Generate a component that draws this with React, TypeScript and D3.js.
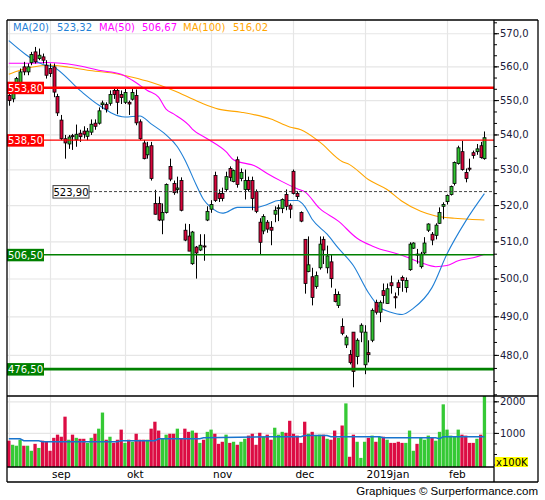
import React from 'react';
import * as d3 from 'd3';

// ---- data (index = trading day) ----
const opens = [551.5,550.5,553.5,555,560,558.5,561.3,564.5,562.5,563,560.5,559.5,560,551.2,544.3,538.9,537.4,539.8,538.6,540.5,541.1,539.6,540.8,543.4,543.4,548.8,548.9,549.2,553,553,551.8,549.5,549.5,550.4,551.5,543.8,537.7,534.3,536.9,520.6,520.6,516,518.1,531,526.2,524.5,527,513.2,511.6,504.1,508.6,507.8,508.9,516,519,528.4,523.4,523.4,524.5,530.4,526.7,532.9,527.6,524.5,527,527,523.9,515.4,513,515.4,514,517.6,519.2,519.2,523.1,520.1,529.6,523.4,518.1,510.7,502,500.6,498,503,510.7,503,504.6,495.9,493,487.5,482.7,480.2,486,479.7,486,477.6,480.7,483.9,493.8,491.2,496.9,493.5,499,495.3,499,500.4,497.7,502.5,508.3,506.7,503.3,507,513.2,512.1,511.8,515.1,519.8,521.1,523.1,526.2,531.8,535.2,529.3,530.5,534.9,535.2,536.9,533.2];
const highs = [553,554,557,559.5,561.5,561,564.5,566,565.5,564,562,561,561,552,545.8,540,540,540.3,543,541.5,542.5,542,544.5,544.5,548,550,549.5,553,553.5,554,553,553.5,550,553.4,553.3,544.5,538.5,538,538,524.4,522.5,520.6,526.2,533.2,527,528.1,527.9,515,514.9,513,508.9,512.1,512.1,519.8,521.5,529.5,524.5,525,529.5,531,530.1,533.8,530.4,530.1,528.1,528.1,524.5,516.5,517.6,516,515.7,519.8,520.3,522,524.5,520.6,530.1,524,518.4,510.7,511.5,503,502,511.5,511.5,509,506.7,497.4,496.7,489.6,485.2,481.4,486,484.4,488.3,487.8,483.9,492.2,494.5,494.3,498.8,498.8,500.9,496.4,499.8,500.9,500.4,509.9,509.9,508.1,507.3,511.3,515.1,512.7,515.1,519.5,520.9,523.1,525.6,532.4,536.9,538.3,530.4,533.2,535.5,537.4,538,541];
const lows = [548.5,549.5,552.5,554,557.5,557.5,560.5,561,562,561,556.5,557,551,545.5,538.5,533.2,536,535.7,536.6,538,539,538.5,540,541.5,543,547.5,546.5,548.5,550.5,546,549,549,545.8,550,542.8,538.5,533,533.2,527,517.5,515.7,512.1,517.8,526.8,523,523.4,518.4,510.2,507.5,503.8,500.1,507.5,504.9,515.7,518,521,521,521.2,523.9,526.8,526.5,525,526.8,521.7,523.9,518.7,517.9,506.7,512.1,512.5,509.1,515.4,515.7,517.9,518.7,516.5,523.1,521.7,515.4,496.1,501.8,493,497.4,502.5,504,501.5,497.7,493.8,492.3,485.2,481.9,477.7,471.9,477.7,483.4,475.2,478.2,483.4,490.6,488.6,493.5,493.5,496.1,492.2,495.6,496.6,496.4,502.2,508.1,504.1,502.8,506.7,512.7,509.1,510.7,514.9,516.2,520.3,522.8,525.6,531.5,529.8,526.5,529.6,533.2,534.3,533.2,532.9];
const closes = [550,553,556.5,558.5,558.5,560,563.7,561.5,563.5,562,557.5,558,552.5,546.4,538.9,537.7,539.4,539.5,540.2,539.5,540.2,541.1,543.1,542.5,547,549.3,547.5,551.8,551.8,549.5,550.9,552.4,549,552.4,543.5,538.9,533.2,536.6,527.6,517.6,516,518.1,525.9,527.4,523.6,524.9,518.7,510.5,507.5,512.7,507,509.1,508.7,518.4,520.3,521.4,522,522,528.1,527.9,529.8,525.9,529.3,527,524.5,522,518.4,509.9,517,513.5,513.2,518.7,519.4,521.7,519.8,519,523.4,522.5,515.7,498.8,503.8,495.1,500.9,509.4,507.8,506.2,500.1,494,495.9,485.7,484.7,478.2,475.9,483.9,487.8,486,480.2,491.7,491.2,493.8,495.6,497.4,498.2,495,497.7,499.6,499.6,509.4,509.7,506.5,506.7,509.7,514.9,510.5,514.6,518.1,520.3,522.8,525.3,532.1,536.3,530.1,527.6,530.2,534.1,536,533.5,539.2];
const volumes = [770,640,610,800,610,610,450,670,540,770,735,450,860,960,895,1530,800,960,860,830,830,700,860,990,1150,1660,800,895,700,800,1120,700,800,735,990,800,800,800,1150,1370,1090,830,960,990,990,1150,830,1150,1050,1090,1020,700,800,1050,1120,990,670,735,960,700,735,640,735,830,930,990,640,1020,895,960,800,1180,960,1050,1020,1400,990,930,700,1370,990,1050,930,960,960,830,800,1090,860,1250,1950,260,960,735,225,735,860,930,735,895,895,800,700,700,735,700,700,1090,450,670,860,800,930,860,770,1050,1920,1120,930,895,1120,960,930,700,700,830,960,2250];

const monthStarts = [11, 31, 54, 76, 95, 117];
const monthLabels = ['sep', 'okt', 'nov', 'dec', '2019jan', 'feb'];

const ma20: [number, number][] = [[0,567.9],[9,560.8],[12,559.9],[19,553.0],[24,548.7],[31,545.2],[35,545.5],[38,543.2],[42,540.0],[45,536.6],[47,532.9],[50,525.9],[52,521.7],[54,519.5],[57,517.9],[58,518.1],[61,519.5],[66,519.5],[69,520.3],[72,521.4],[77,521.4],[79,519.8],[81,516.2],[85,512.1],[88,508.3],[92,503.6],[96,496.4],[99,492.5],[102,491.2],[105,490.6],[108,492.2],[113,497.7],[117,506.7],[122,515.7],[127,523.32]];
const ma50: [number, number][] = [[0,561.1],[6,561.1],[10,561.3],[14,561.1],[18,560.5],[24,559.0],[30,557.8],[33,556.0],[37,553.0],[40,551.0],[42,547.5],[44,546.1],[48,542.9],[49,541.7],[53,538.9],[58,535.2],[60,532.9],[66,531.0],[69,529.0],[73,526.7],[77,524.7],[79,523.9],[83,519.2],[88,515.7],[93,511.0],[97,508.9],[99,508.1],[103,507.0],[106,506.0],[110,504.4],[114,503.3],[117,503.6],[120,504.9],[124,505.7],[127,506.67]];
const ma100: [number, number][] = [[0,557.8],[3,559.0],[6,559.9],[11,560.5],[16,559.9],[21,559.0],[28,558.1],[33,556.9],[38,555.4],[44,553.0],[51,549.5],[56,547.5],[62,546.6],[70,544.6],[75,542.3],[78,541.5],[83,538.0],[89,532.4],[91,531.5],[96,527.3],[101,524.5],[105,521.2],[110,518.4],[114,517.1],[119,516.5],[123,516.2],[127,516.02]];
const volMa: [number, number][] = [[0,830],[3,830],[4,770],[8,770],[9,735],[29,735],[30,770],[39,770],[40,830],[51,830],[52,860],[70,895],[78,895],[79,930],[85,930],[86,895],[99,895],[100,860],[114,860],[115,830],[116,895],[127,895]];

const legendNames = ['MA(20)', 'MA(50)', 'MA(100)'];
const legendValues = ['523,32', '506,67', '516,02'];

const levelValues = [553.8, 538.5, 523.9, 506.5, 476.5];
const levelLabels = ['553,80', '538,50', '523,90', '506,50', '476,50'];

const priceTicks = [480, 490, 500, 510, 520, 530, 540, 550, 560, 570];
const volumeTicks = [1000, 2000];

// ---- layout ----
const W = 545, H = 500;
const L = 7, R = 494, RR = 538, T = 20, MB = 396, VB = 467, B = 482;
const FONT = 'DejaVu Sans, Verdana, sans-serif';
const GREEN = '#33c433', RED = '#d8063c';
const VGREEN = '#35c935', VRED = '#dc0c43';

export default function App() {
  const n = closes.length;
  const x = d3.scaleLinear().domain([0, n - 1]).range([8.8, 484.4]);
  const y = d3.scaleLog().domain([469.7, 574.2]).range([MB, T]);
  const yv = d3.scaleLinear().domain([0, 2200]).range([465, 395.5]);
  const comma = (s: string) => s.replace('.', ',');
  const fmt1 = d3.format('.1f');

  const maLine = d3.line<[number, number]>().x(d => x(d[0])).y(d => y(d[1])).curve(d3.curveMonotoneX);
  const volLine = d3.line<[number, number]>().x(d => x(d[0])).y(d => yv(d[1]));

  const minorPrice = d3.range(470, 574, 10 / 3);
  const minorVol = d3.range(0, 2200, 1000 / 3);

  const levelStyles = [
    { c: '#ff0000', w: 2.6, dash: undefined as string | undefined, box: '#ff0000', txt: '#fff' },
    { c: '#ff0000', w: 1.4, dash: undefined, box: '#ff0000', txt: '#fff' },
    { c: '#444', w: 1, dash: '3,2', box: '#fff', txt: '#000' },
    { c: '#008000', w: 1.4, dash: undefined, box: '#008000', txt: '#fff' },
    { c: '#008000', w: 2.6, dash: undefined, box: '#008000', txt: '#fff' },
  ];
  const maColors = ['#1f7fd6', '#ff00ff', '#ffa500'];
  const legendX = [[13, 57], [99, 142], [183, 233]];

  return (
    <svg width={W} height={H} style={{ position: 'absolute', left: 0, top: 0, background: '#fff' }} fontFamily={FONT}>
      <defs>
        <clipPath id="mainClip"><rect x={L} y={T} width={R - L} height={MB - T} /></clipPath>
        <clipPath id="volClip"><rect x={L} y={MB} width={R - L} height={VB - MB} /></clipPath>
      </defs>
      <rect x={0} y={0} width={W} height={H} fill="#fff" />

      {/* horizontal gridlines */}
      {priceTicks.map(t => (
        <line key={'hg' + t} x1={L} x2={R} y1={y(t)} y2={y(t)} stroke="#e6e6e6" strokeWidth={1.2} />
      ))}
      {volumeTicks.map(t => (
        <line key={'vg' + t} x1={L} x2={R} y1={yv(t)} y2={yv(t)} stroke="#e6e6e6" strokeWidth={1.2} />
      ))}
      {/* vertical gridlines */}
      {[0, ...monthStarts].map(m => (
        <line key={'mg' + m} x1={Math.round(x(m)) + 0.5} x2={Math.round(x(m)) + 0.5} y1={T} y2={VB} stroke="#e6e6e6" strokeWidth={1.2} />
      ))}

      {/* moving averages */}
      <g clipPath="url(#mainClip)" fill="none">
        <path d={maLine(ma100) || ''} stroke={maColors[2]} strokeWidth={1.1} />
        <path d={maLine(ma50) || ''} stroke={maColors[1]} strokeWidth={1.1} />
        <path d={maLine(ma20) || ''} stroke={maColors[0]} strokeWidth={1.1} />
      </g>

      {/* candles */}
      <g clipPath="url(#mainClip)">
        {closes.map((c, i) => {
          const o = opens[i];
          const cx = Math.round(x(i)) + 0.5;
          const top = y(Math.max(o, c));
          const bot = y(Math.min(o, c));
          return (
            <g key={'c' + i}>
              <line x1={cx} x2={cx} y1={y(highs[i])} y2={y(lows[i])} stroke="#000" strokeWidth={1} />
              <rect x={cx - 1.5} y={top} width={3} height={Math.max(bot - top, 1)} fill={c >= o ? GREEN : RED} stroke="#000" strokeWidth={0.8} />
            </g>
          );
        })}
      </g>

      {/* level lines */}
      {levelValues.map((v, k) => {
        const s = levelStyles[k];
        const yy = y(v);
        return (
          <line key={'lv' + k} x1={k === 2 ? 89 : L} x2={R} y1={yy} y2={yy} stroke={s.c} strokeWidth={s.w} strokeDasharray={s.dash} />
        );
      })}
      {levelValues.map((v, k) => {
        const s = levelStyles[k];
        const yy = y(v);
        const bx = k === 2 ? 53 : L;
        return (
          <g key={'lb' + k}>
            <rect x={bx} y={yy - 6} width={k === 2 ? 36 : 37} height={12.5} fill={s.box} stroke={k === 2 ? '#444' : 'none'} strokeWidth={1} />
            <text x={bx + (k === 2 ? 18 : 18.5)} y={yy + 4} fontSize={10} fill={s.txt} textAnchor="middle">{levelLabels[k]}</text>
          </g>
        );
      })}

      {/* volume */}
      <g clipPath="url(#volClip)">
        {volumes.map((v, i) => (
          <rect key={'v' + i} x={x(i) - 1.6} y={yv(v)} width={3.3} height={VB - yv(v)} fill={closes[i] >= opens[i] ? VGREEN : VRED} />
        ))}
        <path d={volLine(volMa) || ''} fill="none" stroke="#1874cd" strokeWidth={1.5} />
      </g>

      {/* legend */}
      {legendNames.map((nm, k) => (
        <g key={'lg' + k} fontSize={10} fill={maColors[k]}>
          <text x={legendX[k][0]} y={31}>{nm}</text>
          <text x={legendX[k][1]} y={31}>{legendValues[k]}</text>
        </g>
      ))}

      {/* right price axis */}
      {minorPrice.map((t, k) => (
        <line key={'mp' + k} x1={R} x2={R + 3} y1={y(t)} y2={y(t)} stroke="#000" strokeWidth={1} />
      ))}
      {priceTicks.map(t => (
        <g key={'pt' + t}>
          <line x1={R} x2={R + 5} y1={y(t)} y2={y(t)} stroke="#000" strokeWidth={1} />
          <text x={500} y={y(t) + 3.5} fontSize={10} fill="#1a1a3a">{comma(fmt1(t))}</text>
        </g>
      ))}
      {/* right volume axis */}
      {minorVol.map((t, k) => (
        <line key={'mv' + k} x1={R} x2={R + 3} y1={yv(t)} y2={yv(t)} stroke="#000" strokeWidth={1} />
      ))}
      {volumeTicks.map(t => (
        <g key={'vt' + t}>
          <line x1={R} x2={R + 5} y1={yv(t)} y2={yv(t)} stroke="#000" strokeWidth={1} />
          <text x={500} y={yv(t) + 3.5} fontSize={10} fill="#1a1a3a">{t}</text>
        </g>
      ))}
      <rect x={495} y={457} width={33} height={10} fill="#ffff00" />
      <text x={496} y={465.5} fontSize={10} fill="#000">x100K</text>

      {/* month labels */}
      {monthStarts.map((m, k) => (
        <text key={'ml' + k} x={x(m) + 2} y={477.5} fontSize={10.5} fill="#000">{monthLabels[k]}</text>
      ))}

      {/* frame */}
      <g stroke="#000" strokeWidth={1.3} fill="none">
        <line x1={L} x2={L} y1={T} y2={B} />
        <line x1={L} x2={RR} y1={T} y2={T} />
        <line x1={R} x2={R} y1={T} y2={B} />
        <line x1={RR} x2={RR} y1={T} y2={B} />
        <line x1={L} x2={RR} y1={MB} y2={MB} />
        <line x1={L} x2={R} y1={VB} y2={VB} />
        <line x1={L} x2={RR} y1={B} y2={B} />
      </g>

      <text x={538} y={494.5} fontSize={11.5} fontFamily="Liberation Sans, Arial, sans-serif" textAnchor="end" fill="#000">Graphiques © Surperformance.com</text>
    </svg>
  );
}
